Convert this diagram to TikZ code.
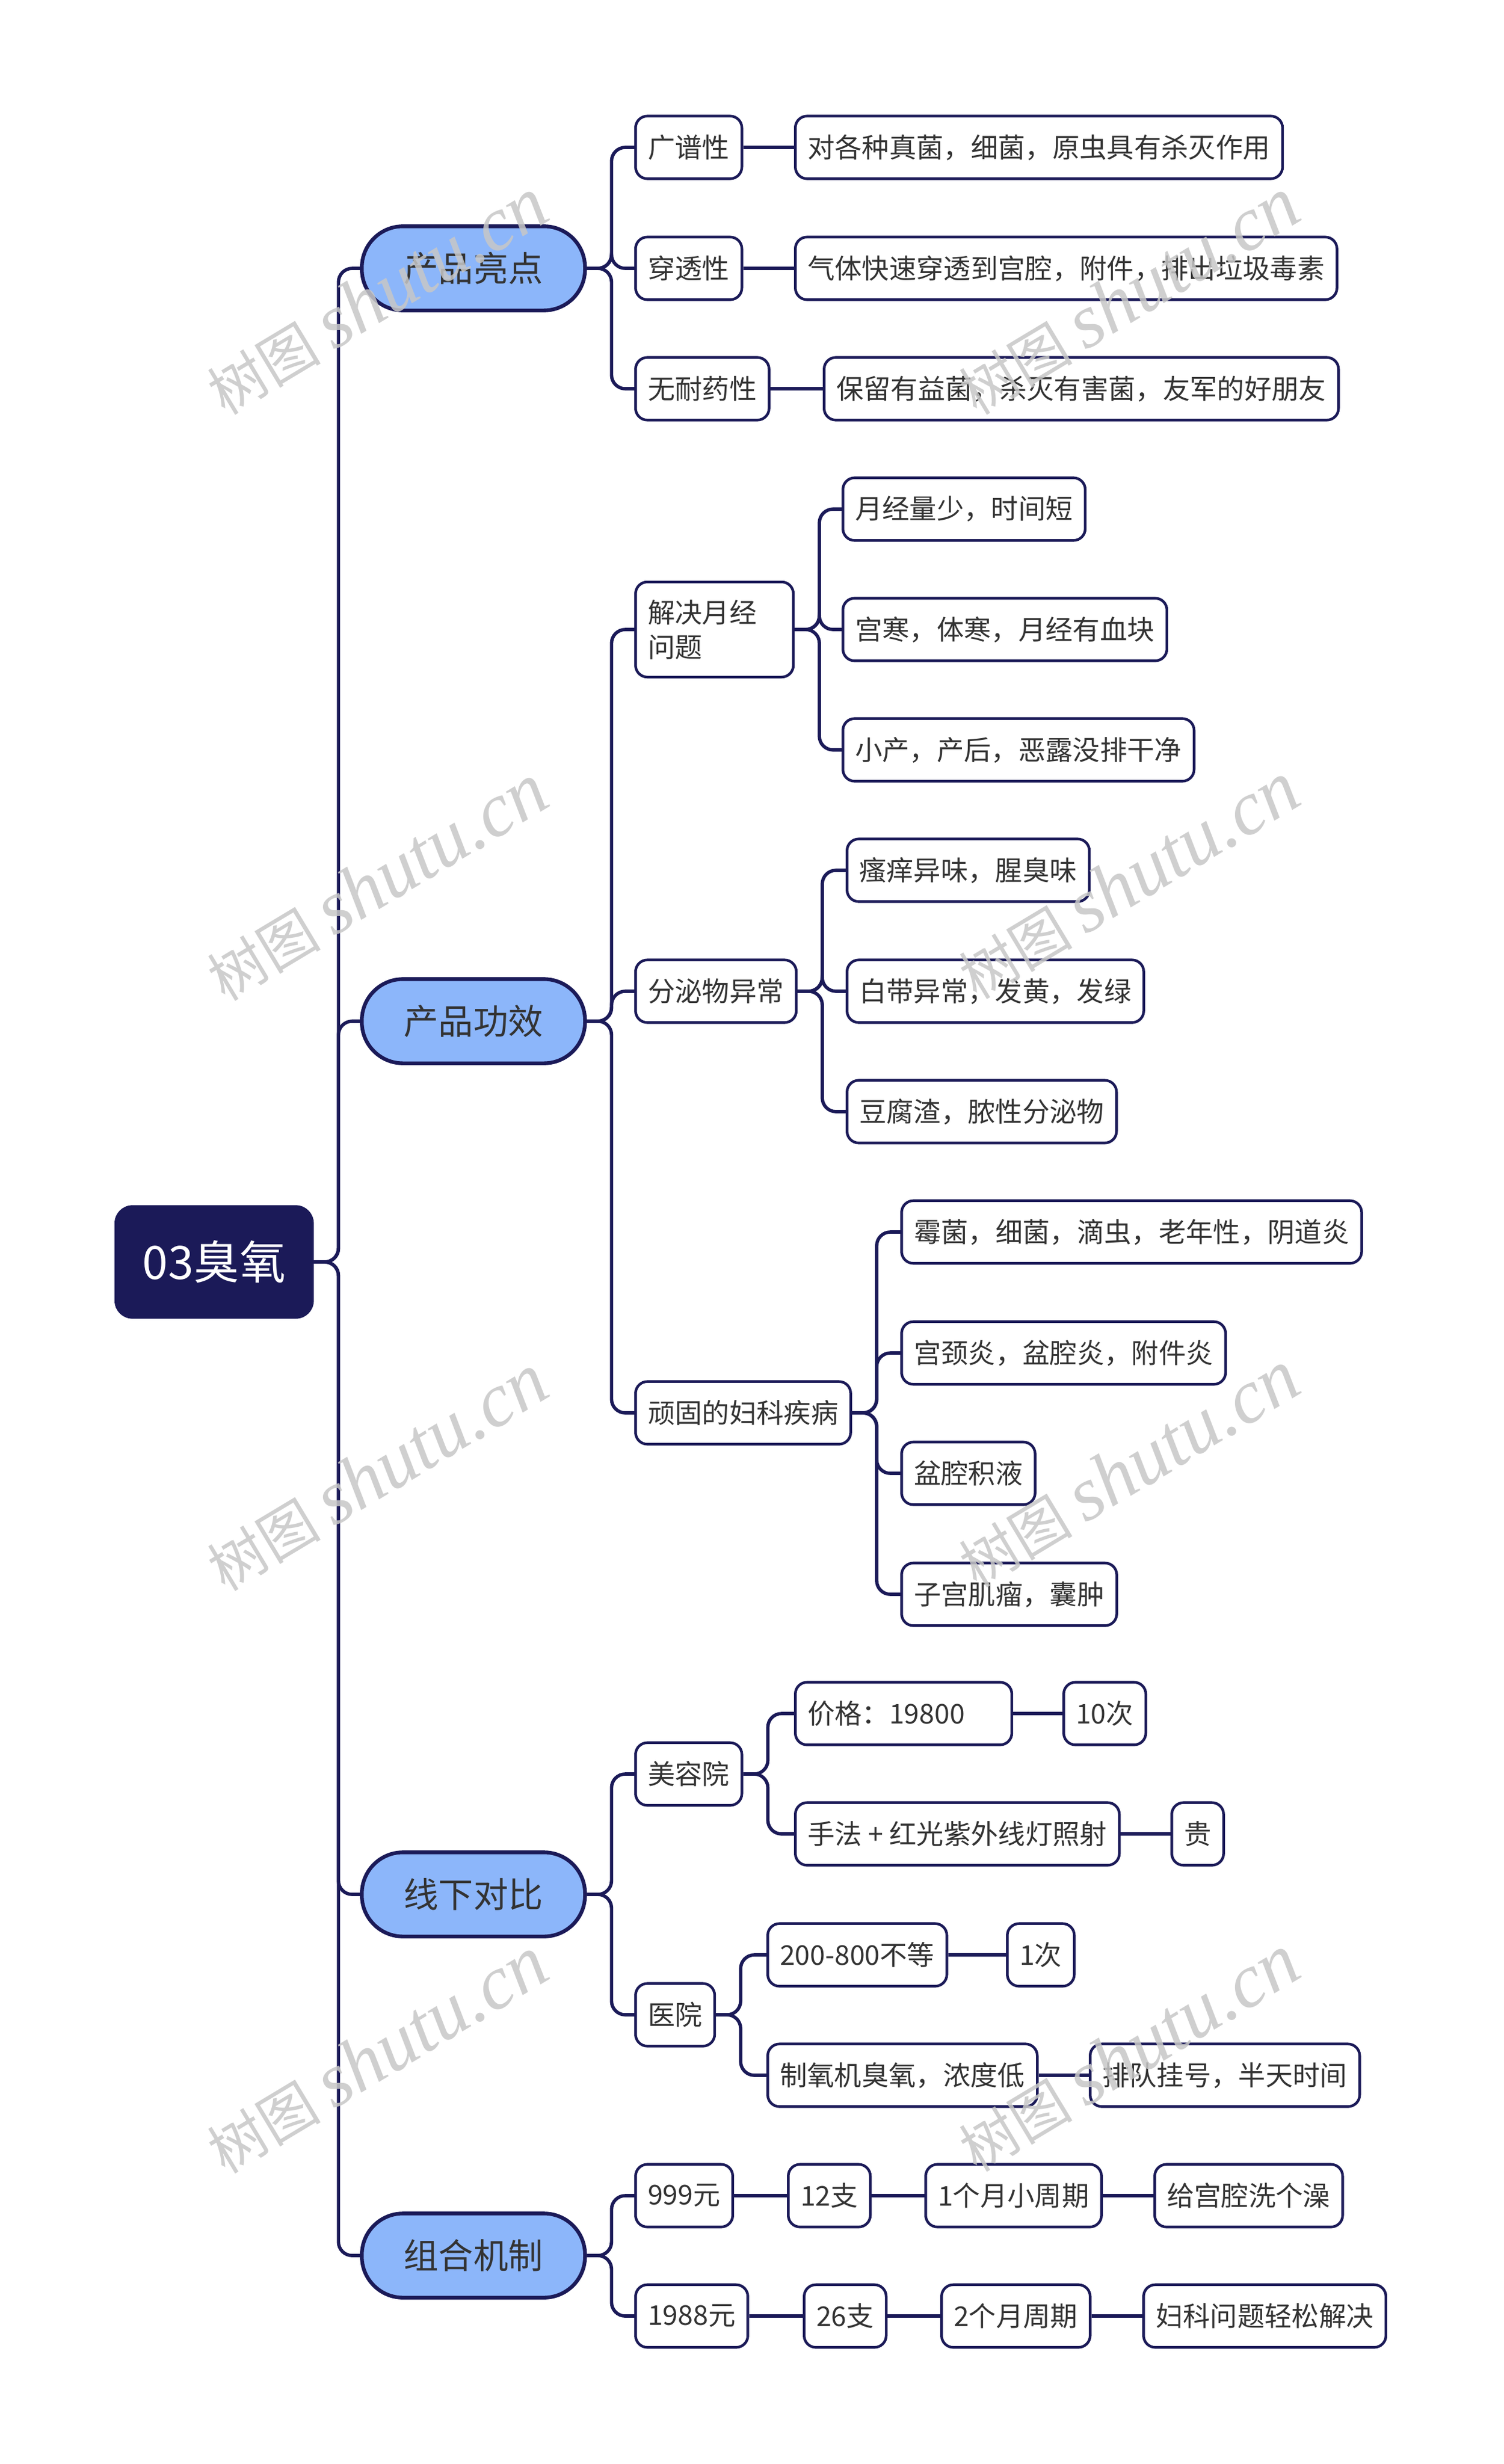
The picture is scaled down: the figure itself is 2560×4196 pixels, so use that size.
\documentclass[tikz,border=0pt]{standalone}
\usepackage{fontspec}
\setmainfont{Noto Sans CJK SC}
\newfontfamily\wmfont{Liberation Serif}
\definecolor{navy}{HTML}{1B1A58}
\definecolor{pillblue}{HTML}{8CB6FA}
\definecolor{ink}{HTML}{333333}
\tikzset{
  rootbox/.style={anchor=west,fill=navy,draw=navy,rounded corners=9pt,
    minimum width=101.4pt,minimum height=57.6pt,text=white,
    font=\fontsize{23.5pt}{28pt}\selectfont},
  topic/.style={anchor=west,fill=pillblue,draw=navy,line width=1.9pt,
    rounded corners=21pt,minimum width=114pt,minimum height=43pt,text=ink,
    font=\fontsize{17.8pt}{21pt}\selectfont},
  leaf/.style={anchor=west,fill=white,draw=navy,line width=1.35pt,
    rounded corners=6pt,minimum height=32pt,inner xsep=6.3pt,text=ink,
    font=\fontsize{13.9pt}{17.7pt}\selectfont},
  link/.style={draw=navy,line width=1.7pt,rounded corners=7pt},
  wmark/.style={text=black!22,opacity=.85,rotate=31,inner sep=0pt}
}
\begin{document}
\begin{tikzpicture}[x=0.3pt,y=-0.3pt]
  \useasboundingbox (0,0) rectangle (2560,4196);

  \node[rootbox] (root) at (195,2149) {03臭氧};

  \node[topic] (hl)  at (613,457)  {产品亮点};
  \node[topic] (eff) at (613,1739) {产品功效};
  \node[topic] (cmp) at (613,3226) {线下对比};
  \node[topic] (mix) at (613,3841) {组合机制};

  % 产品亮点
  \node[leaf] (gp)  at (1080,251)  {广谱性};
  \node[leaf] (gp1) at (1352,251)  {对各种真菌，细菌，原虫具有杀灭作用};
  \node[leaf] (ct)  at (1080,457)  {穿透性};
  \node[leaf] (ct1) at (1352,457)  {气体快速穿透到宫腔，附件，排出垃圾毒素};
  \node[leaf] (nr)  at (1080,662)  {无耐药性};
  \node[leaf] (nr1) at (1401,662)  {保留有益菌，杀灭有害菌，友军的好朋友};

  % 产品功效
  \node[leaf,text width=68pt,align=left,minimum height=48.6pt] (yj) at (1080,1072) {解决月经\\问题};
  \node[leaf] (yj1) at (1433,867)  {月经量少，时间短};
  \node[leaf] (yj2) at (1433,1072) {宫寒，体寒，月经有血块};
  \node[leaf] (yj3) at (1433,1277) {小产，产后，恶露没排干净};
  \node[leaf] (fm)  at (1080,1688) {分泌物异常};
  \node[leaf] (fm1) at (1440,1482) {瘙痒异味，腥臭味};
  \node[leaf] (fm2) at (1440,1688) {白带异常，发黄，发绿};
  \node[leaf] (fm3) at (1440,1893) {豆腐渣，脓性分泌物};
  \node[leaf] (wg)  at (1080,2406) {顽固的妇科疾病};
  \node[leaf] (wg1) at (1533,2098) {霉菌，细菌，滴虫，老年性，阴道炎};
  \node[leaf] (wg2) at (1533,2304) {宫颈炎，盆腔炎，附件炎};
  \node[leaf] (wg3) at (1533,2509) {盆腔积液};
  \node[leaf] (wg4) at (1533,2715) {子宫肌瘤，囊肿};

  % 线下对比
  \node[leaf] (mr)   at (1080,3021) {美容院};
  \node[leaf,text width=98pt,align=left] (mr1) at (1352,2918) {价格：19800};
  \node[leaf] (mr1a) at (1809,2918) {10次};
  \node[leaf] (mr2)  at (1352,3123) {手法 + 红光紫外线灯照射};
  \node[leaf] (mr2a) at (1993,3123) {贵};
  \node[leaf] (yy)   at (1080,3431) {医院};
  \node[leaf] (yy1)  at (1305,3329) {200-800不等};
  \node[leaf] (yy1a) at (1713,3329) {1次};
  \node[leaf] (yy2)  at (1305,3534) {制氧机臭氧，浓度低};
  \node[leaf] (yy2a) at (1854,3534) {排队挂号，半天时间};

  % 组合机制
  \node[leaf] (p1)  at (1080,3739) {999元};
  \node[leaf] (p1a) at (1340,3739) {12支};
  \node[leaf] (p1b) at (1574,3739) {1个月小周期};
  \node[leaf] (p1c) at (1964,3739) {给宫腔洗个澡};
  \node[leaf] (p2)  at (1080,3944) {1988元};
  \node[leaf] (p2a) at (1367,3944) {26支};
  \node[leaf] (p2b) at (1601,3944) {2个月周期};
  \node[leaf] (p2c) at (1945,3944) {妇科问题轻松解决};

  \foreach \from/\to in {root/hl, root/eff, root/cmp, root/mix,
            hl/gp, hl/ct, hl/nr, eff/yj, eff/fm, eff/wg,
            cmp/mr, cmp/yy, mix/p1, mix/p2,
            yj/yj1, yj/yj2, yj/yj3, fm/fm1, fm/fm2, fm/fm3,
            wg/wg1, wg/wg2, wg/wg3, wg/wg4,
            mr/mr1, mr/mr2, yy/yy1, yy/yy2}
  \draw[link] (\from.east) -- ++(42,0) |- (\to.west);
  \foreach \from/\to in {gp/gp1, ct/ct1, nr/nr1, mr1/mr1a, mr2/mr2a,
            yy1/yy1a, yy2/yy2a, p1/p1a, p1a/p1b, p1b/p1c,
            p2/p2a, p2a/p2b, p2b/p2c}
  \draw[link] (\from) -- (\to);

  % watermarks
  \foreach \i/\wx/\wy in {1/642/505, 2/1922/505, 3/642/1503, 4/1922/1500,
            5/642/2508, 6/1922/2502, 7/642/3500, 8/1922/3497}
  \node[wmark] (w\i) at (\wx,\wy)
    {\fontsize{29pt}{32pt}\selectfont 树图 \wmfont\itshape\fontsize{39pt}{42pt}\selectfont shutu.cn};
\end{tikzpicture}
\end{document}
